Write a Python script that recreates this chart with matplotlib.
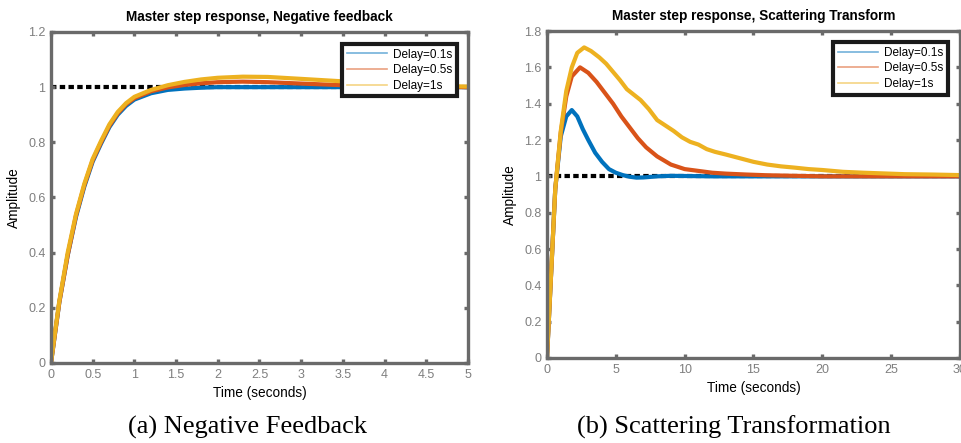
import matplotlib.pyplot as plt
from matplotlib.lines import Line2D

# ---- data ----
labels = ["Delay=0.1s", "Delay=0.5s", "Delay=1s"]
colors = ["#0072BD", "#D95319", "#EDB120"]
ref_level = 1.0

# (a) negative feedback
neg_t_01 = [0, 0.05, 0.1, 0.2, 0.3, 0.4, 0.5, 0.6, 0.7, 0.8, 0.9, 1.0, 1.2, 1.4,
            1.6, 1.8, 2.0, 2.5, 3.0, 4.0, 5.0]
neg_y_01 = [0, 0.11, 0.22, 0.39, 0.53, 0.64, 0.73, 0.795, 0.855, 0.9, 0.932, 0.955,
            0.978, 0.99, 0.995, 0.998, 1.0, 1.0, 1.0, 1.0, 1.0]
neg_t_05 = [0, 0.05, 0.1, 0.2, 0.3, 0.4, 0.5, 0.6, 0.7, 0.8, 0.9, 1.0, 1.2, 1.4,
            1.6, 1.8, 2.0, 2.3, 2.6, 3.0, 3.5, 4.0, 4.5, 5.0]
neg_y_05 = [0, 0.11, 0.22, 0.39, 0.535, 0.645, 0.735, 0.8, 0.86, 0.905, 0.938, 0.96,
            0.985, 0.999, 1.008, 1.014, 1.018, 1.02, 1.018, 1.013, 1.007, 1.003, 1.001, 1.0]
neg_t_1 = [0, 0.05, 0.1, 0.2, 0.3, 0.4, 0.5, 0.6, 0.7, 0.8, 0.9, 1.0, 1.2, 1.4,
           1.6, 1.8, 2.0, 2.3, 2.6, 3.0, 3.5, 4.0, 4.5, 5.0]
neg_y_1 = [0, 0.115, 0.225, 0.4, 0.54, 0.65, 0.74, 0.805, 0.865, 0.91, 0.942, 0.965,
           0.99, 1.007, 1.019, 1.028, 1.034, 1.038, 1.037, 1.03, 1.021, 1.012, 1.006, 1.002]

# (b) scattering transformation
sc_t_01 = [0, 0.6, 1.0, 1.4, 1.8, 2.2, 2.6, 3.0, 3.5, 4.0, 4.5, 5.0, 5.5, 6.0,
           6.5, 7.0, 8.0, 9.0, 10, 12, 15, 20, 25, 30]
sc_y_01 = [0, 0.93, 1.22, 1.33, 1.365, 1.33, 1.26, 1.2, 1.13, 1.08, 1.04, 1.02,
           1.007, 0.998, 0.993, 0.994, 1.0, 1.003, 1.002, 1.0, 1.0, 1.0, 1.0, 1.0]
sc_t_05 = [0, 0.6, 1.0, 1.4, 1.8, 2.4, 3.0, 3.6, 4.2, 4.8, 5.4, 6.0, 6.6, 7.2,
           8.0, 9.0, 10, 11, 12, 13, 14.5, 16, 18, 20, 25, 30]
sc_y_05 = [0, 0.93, 1.24, 1.44, 1.55, 1.6, 1.57, 1.52, 1.46, 1.4, 1.33, 1.27,
           1.21, 1.16, 1.11, 1.065, 1.04, 1.03, 1.02, 1.015, 1.01, 1.006, 1.003,
           1.0, 1.0, 1.0]
sc_t_1 = [0, 0.6, 1.0, 1.4, 1.8, 2.2, 2.7, 3.2, 3.8, 4.3, 4.8, 5.3, 5.8, 6.3,
          6.8, 7.4, 8.0, 8.6, 9.2, 9.8, 10.4, 11.0, 11.6, 12.2, 13.0, 14.0, 15.0,
          16.0, 17.0, 18.0, 19.0, 20.0, 21.5, 23, 24.5, 26, 28, 30]
sc_y_1 = [0, 0.93, 1.25, 1.47, 1.6, 1.68, 1.71, 1.69, 1.655, 1.62, 1.575, 1.53,
          1.48, 1.45, 1.42, 1.37, 1.31, 1.28, 1.25, 1.215, 1.19, 1.175, 1.15,
          1.135, 1.12, 1.1, 1.08, 1.065, 1.055, 1.048, 1.04, 1.035, 1.025, 1.02,
          1.016, 1.012, 1.01, 1.007]

neg_xticks = [0, 0.5, 1, 1.5, 2, 2.5, 3, 3.5, 4, 4.5, 5]
neg_yticks = [0, 0.2, 0.4, 0.6, 0.8, 1, 1.2]
sc_xticks = [0, 5, 10, 15, 20, 25, 30]
sc_yticks = [0, 0.2, 0.4, 0.6, 0.8, 1, 1.2, 1.4, 1.6, 1.8]

plt.rcParams['font.family'] = ['Liberation Sans', 'DejaVu Sans']

fig = plt.figure(figsize=(9.62, 4.43), dpi=100)
ax1 = fig.add_axes([0.053, 0.1806, 0.4335, 0.7472])
ax2 = fig.add_axes([0.5686, 0.1919, 0.4293, 0.738])


def style_axes(ax, title, xticks, yticks, xlim, ylim):
    ax.set_xlim(*xlim)
    ax.set_ylim(*ylim)
    ax.set_xticks(xticks)
    ax.set_yticks(yticks)
    ax.set_xticklabels([f"{v:g}" for v in xticks])
    ax.set_yticklabels([f"{v:g}" for v in yticks])
    for s in ax.spines.values():
        s.set_color('#6a6a6a')
        s.set_linewidth(2.4)
    ax.tick_params(direction='in', length=3, width=2.4, top=True, right=True,
                   color='#6a6a6a', labelcolor='#7f7f7f', labelsize=9, pad=4)
    ax.set_title(title, fontsize=9.8, fontweight='bold', pad=8)
    ax.set_xlabel("Time (seconds)", fontsize=9.8, labelpad=4)
    ax.set_ylabel("Amplitude", fontsize=9.8, labelpad=5)


def add_legend(ax, anchor):
    handles = [Line2D([], [], color=c, lw=1.2, alpha=0.55) for c in colors]
    leg = ax.legend(handles, labels, loc='upper right', bbox_to_anchor=anchor,
                    fontsize=8.5, handlelength=3.4, handletextpad=0.5,
                    labelspacing=0.3, borderpad=0.4, borderaxespad=0,
                    fancybox=False, framealpha=1)
    leg.get_frame().set_edgecolor('#1a1a1a')
    leg.get_frame().set_linewidth(3)


# ---- (a) ----
ax1.axhline(ref_level, color='black', lw=3, ls=(0, (1.3, 0.8)), zorder=1)
for t, y, c in zip([neg_t_01, neg_t_05, neg_t_1], [neg_y_01, neg_y_05, neg_y_1], colors):
    ax1.plot(t, y, color=c, lw=3, solid_capstyle='round', zorder=2)
style_axes(ax1, "Master step response, Negative feedback",
           neg_xticks, neg_yticks, (0, 5), (0, 1.2))
add_legend(ax1, (0.974, 0.964))

# ---- (b) ----
ax2.axhline(ref_level, color='black', lw=3, ls=(0, (1.3, 0.8)), zorder=1)
for t, y, c in zip([sc_t_01, sc_t_05, sc_t_1], [sc_y_01, sc_y_05, sc_y_1], colors):
    ax2.plot(t, y, color=c, lw=3, solid_capstyle='round', zorder=2)
style_axes(ax2, "Master step response, Scattering Transform",
           sc_xticks, sc_yticks, (0, 30), (0, 1.8))
add_legend(ax2, (0.971, 0.966))

# ---- captions ----
fig.text(0.257, 0.036, "(a) Negative Feedback", ha='center', va='center',
         fontsize=19, family='Liberation Serif')
fig.text(0.763, 0.036, "(b) Scattering Transformation", ha='center', va='center',
         fontsize=19, family='Liberation Serif')

fig.savefig("out.png", dpi=100)
